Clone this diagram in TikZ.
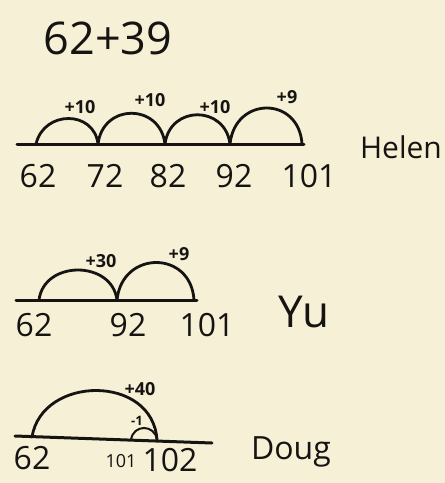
\documentclass[tikz,border=0pt]{standalone}
\usepackage{fontspec}
\setmainfont{Open Sans}
\definecolor{paper}{RGB}{246,241,214}
\definecolor{ink}{RGB}{22,20,18}
\begin{document}
\begin{tikzpicture}[x=1pt,y=-1pt,
  numline/.style={draw=ink,line width=3pt,line cap=round},
  jump/.style={draw=ink,line width=2.8pt,line cap=round},
  num/.style={text=ink,font=\fontsize{32}{32}\selectfont,inner sep=0pt},
  lab/.style={text=ink,font=\bfseries\fontsize{18}{18}\selectfont,inner sep=0pt},
  who/.style={text=ink,font=\fontsize{30}{30}\selectfont,inner sep=0pt}]
\fill[paper] (0,0) rectangle (445,483);
\useasboundingbox (0,0) rectangle (445,483);
% title
\node[text=ink,font=\fontsize{45}{45}\selectfont,inner sep=0pt] (title) at (108,38) {62+39};
% Helen
\coordinate (hl) at (17,144); \coordinate (hr) at (304,144);
\coordinate (h0) at (36,144); \coordinate (h1) at (98,144);
\coordinate (h2) at (165,144); \coordinate (h3) at (230,144);
\coordinate (h4) at (302,144);
\draw[numline] (hl) -- (hr);
\draw[jump] (h0) .. controls +(8,-34) and +(-4,-34) .. (h1);
\draw[jump] (h1) .. controls +(5,-41) and +(-5,-41) .. (h2);
\draw[jump] (h2) .. controls +(5,-39) and +(-5,-39) .. (h3);
\draw[jump] (h3) .. controls +(5,-48) and +(-3,-48) .. (h4);
\node[lab] (hj1) at (80,107) {+10};
\node[lab] (hj2) at (150,100) {+10};
\node[lab] (hj3) at (215,107) {+10};
\node[lab] (hj4) at (287,97) {+9};
\node[num] (hn0) at (38,176) {62};
\node[num] (hn1) at (105,176) {72};
\node[num] (hn2) at (168,176) {82};
\node[num] (hn3) at (234,176) {92};
\node[num] (hn4) at (309,176) {101};
\node[who] (helen) at (401,147) {Helen};
% Yu
\coordinate (yl) at (16,300); \coordinate (yr) at (197,300);
\coordinate (y0) at (39,300); \coordinate (y1) at (117,300);
\coordinate (y2) at (194,300);
\draw[numline] (yl) -- (yr);
\draw[jump] (y0) .. controls +(5,-40) and +(-5,-40) .. (y1);
\draw[jump] (y1) .. controls +(5,-50) and +(-3,-50) .. (y2);
\node[lab] (yj1) at (101,261) {+30};
\node[lab] (yj2) at (179,254) {+9};
\node[num] (yn0) at (34,325) {62};
\node[num] (yn1) at (128,325) {92};
\node[num] (yn2) at (207,325) {101};
\node[who,font=\fontsize{44}{44}\selectfont] (yu) at (304,312) {Yu};
% Doug
\coordinate (dl) at (15,436); \coordinate (dr) at (212,443);
\coordinate (d0) at (32,437); \coordinate (d1) at (157,440);
\coordinate (s0) at (131,440);
\draw[numline] (dl) -- (dr);
\draw[jump] (d0) .. controls +(10,-62) and +(-4,-66) .. (d1);
\draw[draw=ink,line width=2pt] (s0) .. controls +(2,-16) and +(-2,-16) .. (d1);
\node[lab] (dj1) at (140,389) {+40};
\node[lab,font=\bfseries\fontsize{13}{13}\selectfont] (dj2) at (137,421) {-1};
\node[num] (dn0) at (32,458) {62};
\node[num,font=\fontsize{18}{18}\selectfont] (dn1) at (121,461) {101};
\node[num] (dn2) at (170,460) {102};
\node[who,font=\fontsize{32}{32}\selectfont] (doug) at (291,452) {Doug};
\end{tikzpicture}
\end{document}
